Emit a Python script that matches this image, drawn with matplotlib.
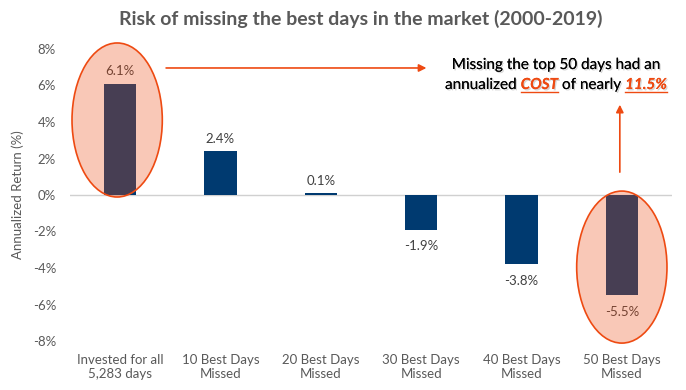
import numpy as np
import matplotlib
matplotlib.use("Agg")
import matplotlib.pyplot as plt
from matplotlib.patches import Ellipse
import matplotlib.patheffects as pe

# data
categories = ["Invested for all\n5,283 days", "10 Best Days\nMissed", "20 Best Days\nMissed",
              "30 Best Days\nMissed", "40 Best Days\nMissed", "50 Best Days\nMissed"]
returns = [6.1, 2.4, 0.1, -1.9, -3.8, -5.5]
labels = ["6.1%", "2.4%", "0.1%", "-1.9%", "-3.8%", "-5.5%"]
yticks = [-8, -6, -4, -2, 0, 2, 4, 6, 8]

navy = "#003A70"
orange = "#EE4A12"
gray = "#595959"

plt.rcParams['font.family'] = ['Lato', 'DejaVu Sans']

W, H = 686, 390
fig = plt.figure(figsize=(W / 100, H / 100), dpi=100)
ax = fig.add_axes([70 / W, 1 - 341 / H, 602 / W, 292 / H])

def px(x, y):
    return x / W, 1 - y / H

x = np.arange(len(categories))
ax.bar(x, returns, width=0.32, color=navy, zorder=2)
ax.set_xlim(-0.5, 5.5)
ax.set_ylim(-8, 8)
ax.set_yticks(yticks)
ax.set_yticklabels([f"{t}%" for t in yticks])
ax.set_xticks(x)
ax.set_xticklabels(categories, linespacing=1.2)
ax.tick_params(axis='y', length=0, pad=10, labelsize=9.5, labelcolor=gray)
ax.tick_params(axis='x', length=0, pad=9, labelsize=9.5, labelcolor=gray)
for s in ax.spines.values():
    s.set_visible(False)
ax.axhline(0, color="#D0D0D0", lw=1, zorder=1)
ax.set_ylabel("Annualized Return (%)", fontsize=9.5, color=gray, labelpad=6)

for xi, v, lab in zip(x, returns, labels):
    off = 9 if v >= 0 else -12
    ax.annotate(lab, (xi, v), xytext=(0, off), textcoords="offset points",
                ha="center", va="center", fontsize=9.5, color="#404040", zorder=3)

# highlight ellipses
for cx, cy, h in [(-0.03, 4.11, 8.44), (5.0, -3.95, 8.33)]:
    ax.add_patch(Ellipse((cx, cy), 0.9, h, facecolor=orange, alpha=0.3,
                         edgecolor="none", zorder=4, clip_on=False))
    ax.add_patch(Ellipse((cx, cy), 0.9, h, facecolor="none", edgecolor=orange,
                         lw=1.2, zorder=5, clip_on=False))

# arrows
ax.annotate("", xy=(3.08, 6.96), xytext=(0.43, 6.96),
            arrowprops=dict(arrowstyle="-|>", color=orange, lw=1.2, mutation_scale=11),
            annotation_clip=False)
ax.annotate("", xy=(4.98, 5.1), xytext=(4.98, 1.1),
            arrowprops=dict(arrowstyle="-|>", color=orange, lw=1.2, mutation_scale=11),
            annotation_clip=False)

fig.text(*px(361, 19), "Risk of missing the best days in the market (2000-2019)",
         ha="center", va="center", fontsize=14, color=gray, fontweight="bold")

# callout text
shadow = [pe.withSimplePatchShadow(offset=(1, -1), shadow_rgbFace="#888888", alpha=0.35), pe.Normal()]
fig.text(*px(556, 65), "Missing the top 50 days had an", ha="center", va="center",
         fontsize=11, color="black", path_effects=shadow)

parts = [("annualized ", False), ("COST", True), (" of nearly ", False), ("11.5%", True)]
fig.canvas.draw()
r = fig.canvas.get_renderer()
objs = []
for txt, hl in parts:
    kw = dict(fontsize=11, va="baseline", ha="left", path_effects=shadow)
    if hl:
        kw.update(color=orange, fontweight="bold", fontstyle="italic")
    else:
        kw.update(color="black")
    objs.append(fig.text(0, 0, txt, **kw))
widths = [o.get_window_extent(r).width for o in objs]
total = sum(widths)
xs = 556 - total / 2
base_y = 89
for o, w, (txt, hl) in zip(objs, widths, parts):
    o.set_position(px(xs, base_y))
    if hl:
        x0, y0 = px(xs, base_y + 2.5)
        x1, _ = px(xs + w, base_y + 2.5)
        fig.add_artist(plt.Line2D([x0, x1], [y0, y0], color=orange, lw=1))
    xs += w

fig.savefig("out.png", dpi=100)
